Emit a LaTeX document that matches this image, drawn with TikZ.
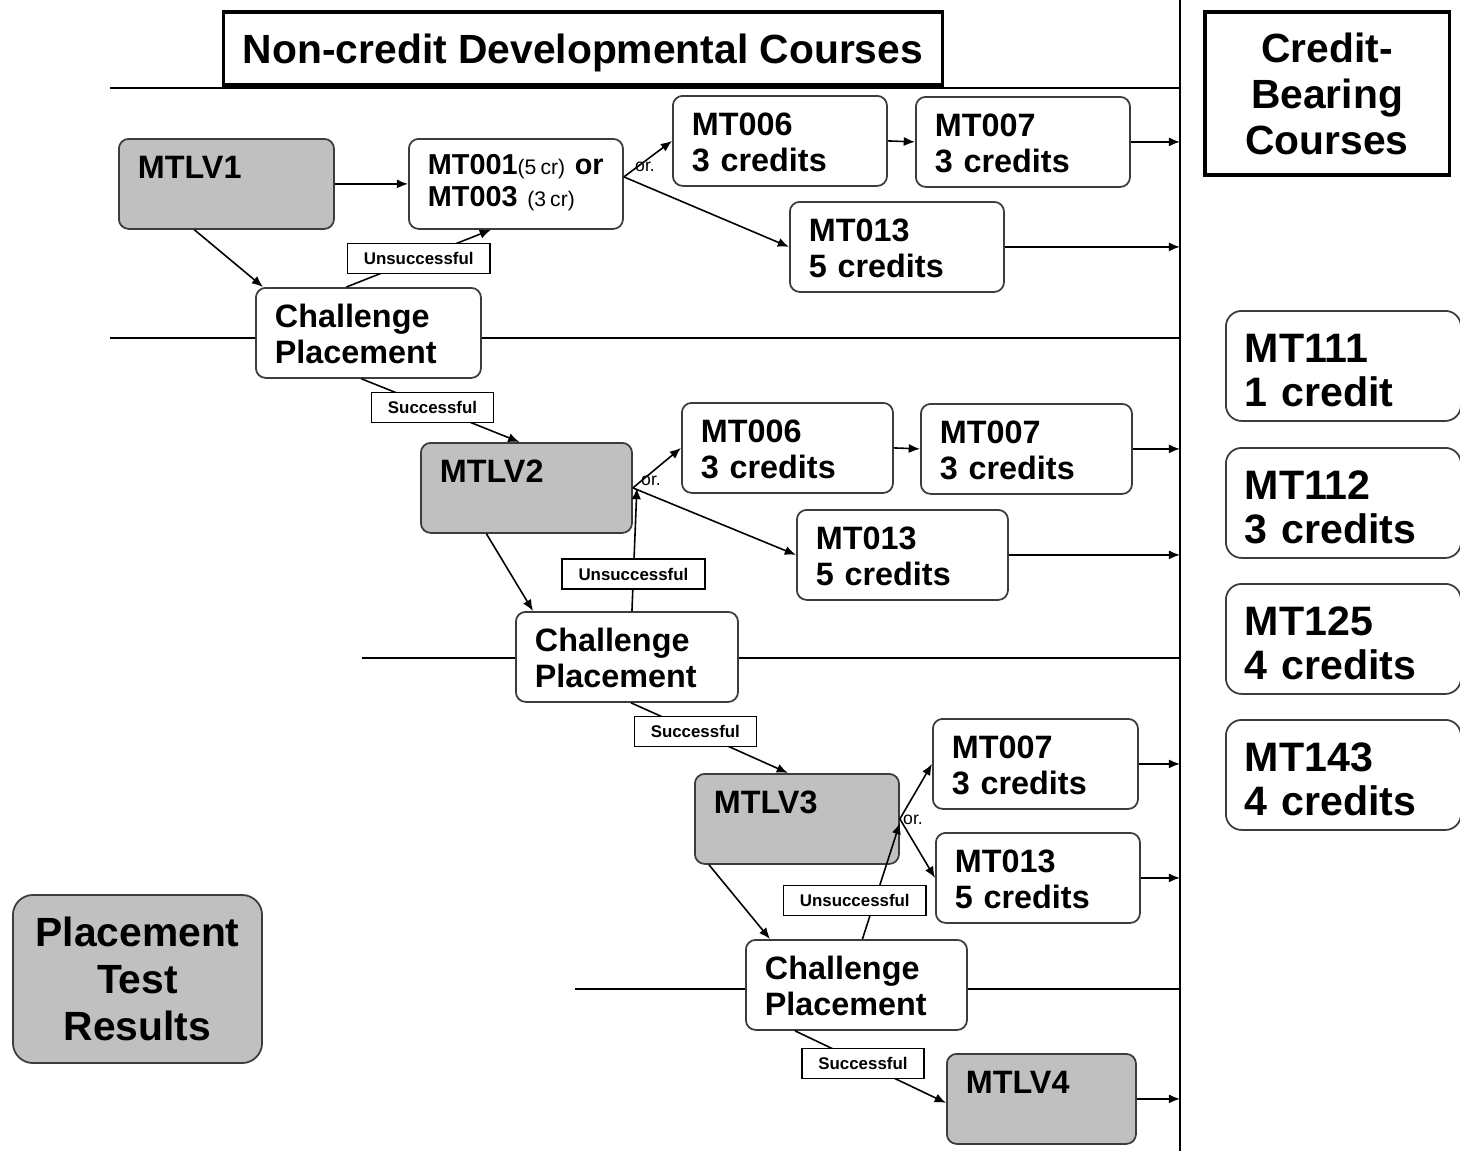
\documentclass[tikz,border=0pt]{standalone}
\usepackage{fontspec}
\setmainfont{Liberation Sans}
\usepackage{tikz}
\usetikzlibrary{arrows.meta}
\usetikzlibrary{calc}
\usetikzlibrary{positioning}

\definecolor{lvgray}{RGB}{192,192,192}
\definecolor{boxline}{RGB}{60,60,60}

\newcommand{\crsfont}{\fontsize{9.2}{10.2}\selectfont\bfseries}
\newcommand{\mtfont}{\fontsize{8.2}{9}\selectfont\bfseries}
\newcommand{\hugefont}{\fontsize{11.7}{12.5}\selectfont\bfseries}
\newcommand{\hdrfont}{\fontsize{11.6}{13.1}\selectfont\bfseries}
\newcommand{\crfont}{\fontsize{6}{6.5}\selectfont\mdseries}
\newcommand{\lblfont}{\fontsize{4.8}{5.5}\selectfont\bfseries}
\newcommand{\orfont}{\fontsize{5}{6}\selectfont}

\tikzset{
	crs/.style={draw=boxline, line width=0.5pt, fill=white, rounded corners=2.8pt, anchor=north west, align=left, inner xsep=0.19cm, inner ysep=0.19cm, text width=#1, text height=0.21cm, text depth=0.31cm, font=\crsfont},
	lvl/.style={crs=#1, fill=lvgray},
	big/.style={crs=#1, rounded corners=4.5pt, text height=0.33cm, text depth=0.39cm, font=\hugefont},
	hdr/.style={draw=black, line width=0.9pt, align=center, inner sep=0pt, font=\hdrfont},
	lbl/.style={draw=black, line width=0.4pt, fill=white, inner xsep=0.165cm, inner ysep=0pt, minimum height=0.3cm, font=\lblfont},
	ortxt/.style={inner sep=0pt, font=\orfont},
	flow/.style={-{Latex[length=3.2pt,width=2.6pt]}, line width=0.45pt},
	sect/.style={line width=0.45pt}
}

\begin{document}
\begin{tikzpicture}[x=0.01cm, y=-0.01cm]
	\useasboundingbox (0,0) rectangle (1460,1151);
	\coordinate (div) at (1180,0);
	\draw[sect] (div) -- (1180,1151);
	\draw[sect] (110,88) -- (div |- 0,88);
	\draw[sect] (110,338) -- (div |- 0,338);
	\draw[sect] (362,658) -- (div |- 0,658);
	\draw[sect] (575,989) -- (div |- 0,989);

	\node[hdr, minimum width=7.18cm, minimum height=0.73cm, text height=0.29cm, text depth=0cm] (title) at (583,48.5) {Non-credit Developmental Courses};
	\node[hdr, minimum width=2.44cm, minimum height=1.63cm] (cbc) at (1327,93.5) {Credit-\\Bearing\\Courses};
	\node[draw=boxline, line width=0.5pt, fill=lvgray, rounded corners=5.7pt, align=center, inner sep=0pt, minimum width=2.49cm, minimum height=1.68cm, font=\fontsize{11.6}{13.3}\selectfont\bfseries] (ptr) at (137.5,979) {Placement\\Test\\Results};

	\node[lvl=1.77cm] (l1) at (118,138) {MTLV1};
	\node[crs=1.76cm, font=\mtfont, text height=0.17cm, text depth=0.35cm] (m1) at (408,138) {\mbox{MT001{\crfont(5\hspace{0.2em}cr)} or}\\\mbox{MT003 {\crfont(3\hspace{0.2em}cr)}}};
	\node[crs=1.76cm] (m6a) at (672,95) {MT006\\3 credits};
	\node[crs=1.76cm] (m7a) at (915,96) {MT007\\3 credits};
	\node[crs=1.76cm] (m13a) at (789,201) {MT013\\5 credits};
	\node[crs=1.87cm] (c1) at (255,287) {Challenge\\Placement};

	\node[lvl=1.73cm] (l2) at (420,442) {MTLV2};
	\node[crs=1.73cm] (m6b) at (681,402) {MT006\\3 credits};
	\node[crs=1.73cm] (m7b) at (920,403) {MT007\\3 credits};
	\node[crs=1.73cm] (m13b) at (796,509) {MT013\\5 credits};
	\node[crs=1.84cm] (c2) at (515,611) {Challenge\\Placement};

	\node[lvl=1.66cm] (l3) at (694,773) {MTLV3};
	\node[crs=1.67cm] (m7c) at (932,718) {MT007\\3 credits};
	\node[crs=1.66cm] (m13c) at (935,832) {MT013\\5 credits};
	\node[crs=1.83cm] (c3) at (745,939) {Challenge\\Placement};

	\node[lvl=1.51cm] (l4) at (946,1053) {MTLV4};

	\node[big=1.97cm] (mt111) at (1225,310) {MT111\\1 credit};
	\node[big=1.97cm] (mt112) at (1225,447) {MT112\\3 credits};
	\node[big=1.97cm] (mt125) at (1225,583) {MT125\\4 credits};
	\node[big=1.97cm] (mt143) at (1225,719) {MT143\\4 credits};

	\node[ortxt] (or1) at (645,167) {or.};
	\node[ortxt] (or2) at (651,481) {or.};
	\node[ortxt] (or3) at (913,820) {or.};

	\draw[flow] (l1.east) -- (m1.west);
	\draw[flow] ($(m1.east)+(0,-7)$) -- (m6a.west);
	\draw[flow] ($(m1.east)+(0,-7)$) -- (m13a.west);
	\draw[flow] (m6a.east) -- (m7a.west);
	\draw[flow] (m7a.east) -- (m7a.east -| div);
	\draw[flow] (m13a.east) -- (m13a.east -| div);
	\draw[flow] ($(l1.south)+(-32,0)$) -- ($(c1.north west)+(8,0)$);
	\draw[flow] ($(c1.north)+(-22,0)$) -- node[lbl] (u1) {Unsuccessful} ($(m1.south)+(-25,0)$);
	\draw[flow] ($(c1.south)+(-7,0)$) -- node[lbl, pos=0.45] (s1) {Successful} ($(l2.north)+(-7,0)$);

	\draw[flow] (l2.east) -- (m6b.west);
	\draw[flow] (l2.east) -- (m13b.west);
	\draw[flow] (m6b.east) -- (m7b.west);
	\draw[flow] (m7b.east) -- (m7b.east -| div);
	\draw[flow] (m13b.east) -- (m13b.east -| div);
	\draw[flow] ($(l2.south)+(-40,0)$) -- ($(c2.north west)+(18,0)$);
	\draw[flow] ($(c2.north)+(5,0)$) -- node[lbl, pos=0.3] (u2) {Unsuccessful} ($(l2.east)+(4,0)$);
	\draw[flow] ($(c2.south)+(4,0)$) -- node[lbl, pos=0.41] (s2) {Successful} ($(l3.north)+(-9,0)$);

	\draw[flow] (l3.east) -- (m7c.west);
	\draw[flow] (l3.east) -- (m13c.west);
	\draw[flow] (m7c.east) -- (m7c.east -| div);
	\draw[flow] (m13c.east) -- (m13c.east -| div);
	\draw[flow] ($(l3.south west)+(15,0)$) -- ($(c3.north west)+(25,0)$);
	\draw[flow] ($(c3.north)+(6,0)$) -- node[lbl, pos=0.33, xshift=-0.2cm] (u3) {Unsuccessful} ($(l3.east)+(0,4)$);
	\draw[flow] ($(c3.south west)+(50,0)$) -- node[lbl, pos=0.45] (s3) {Successful} ($(l4.west)+(0,4)$);
	\draw[flow] (l4.east) -- (l4.east -| div);
\end{tikzpicture}
\end{document}
